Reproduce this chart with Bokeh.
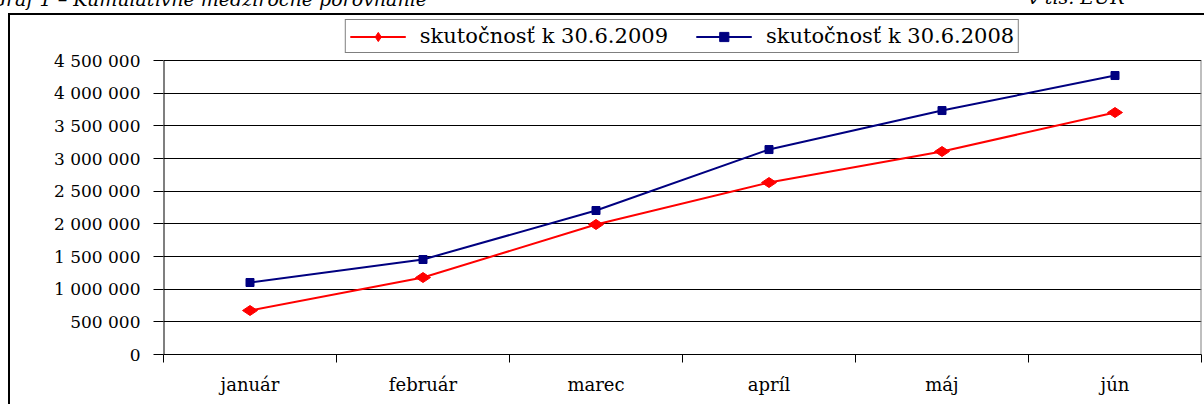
import math
from bokeh.plotting import figure
from bokeh.layouts import column
from bokeh.models import (ColumnDataSource, Range1d, FixedTicker, Legend, LegendItem, Div)
from bokeh.core.properties import value
from bokeh.embed import file_html
from bokeh.resources import INLINE

# ---- data ----
months = ["január", "február", "marec", "apríl", "máj", "jún"]
actual_2009 = [673000, 1178000, 1990000, 2632000, 3107000, 3704000]
actual_2008 = [1102000, 1454000, 2204000, 3137000, 3734000, 4270000]
series_names = ["skutočnosť k 30.6.2009", "skutočnosť k 30.6.2008"]
y_ticks = [0, 500000, 1000000, 1500000, 2000000, 2500000, 3000000, 3500000, 4000000, 4500000]
y_tick_labels = ["0", "500 000", "1 000 000", "1 500 000", "2 000 000", "2 500 000",
                 "3 000 000", "3 500 000", "4 000 000", "4 500 000"]
title_text = "Graf 1 – Kumulatívne medziročné porovnanie"
unit_text = "v tis. EUR"

FONT = "DejaVu Serif"
RED = "#FF0000"
NAVY = "#000080"

x_centers = [i + 0.5 for i in range(len(months))]
x_bounds = list(range(len(months) + 1))

src = ColumnDataSource(dict(x=x_centers, y2009=actual_2009, y2008=actual_2008))

# heading line (cut off at the top of the page, as in the original)
heading = Div(
    text=(f'<div style="position:relative;width:1204px;height:13px;font-family:\'{FONT}\';'
          f'font-style:italic;font-size:19px;line-height:19px;color:#000;white-space:nowrap;">'
          f'<span style="position:absolute;right:777px;top:-10px;">{title_text}</span>'
          f'<span style="position:absolute;left:1028px;top:-12px;">{unit_text}</span></div>'),
    width=1204, height=13, margin=0, styles={"overflow": "visible"})

# plot area: value axis 0 .. 4 500 000 between page rows 354 and 60; the frame is
# extended upwards (to row 16) to hold the legend, as in the original chart area
PX_ZERO, PX_TOP, PX_FRAME_TOP = 354, 60, 16
y_end = y_ticks[-1] * (PX_ZERO - PX_FRAME_TOP) / (PX_ZERO - PX_TOP)

p = figure(width=1204, height=391,
           x_range=Range1d(0, len(months)), y_range=Range1d(y_ticks[0], y_end),
           output_backend="svg", toolbar_location=None,
           min_border_left=163, min_border_right=3, min_border_top=3, min_border_bottom=50,
           background_fill_color="white", border_fill_color=None,
           outline_line_color=None, margin=0)
# outer chart-area box (top and left edges; the rest lies outside the page)
p.styles = {"background": ("linear-gradient(#000,#000) 8px 0px / 100% 2px no-repeat, "
                           "linear-gradient(#000,#000) 8px 0px / 2px 100% no-repeat")}

# y axis
yax = p.yaxis[0]
yax.ticker = FixedTicker(ticks=y_ticks)
yax.major_label_overrides = dict(zip(y_ticks, y_tick_labels))
yax.major_tick_out = 10
yax.major_tick_in = 0
yax.minor_tick_out = 0
yax.minor_tick_in = 0
yax.axis_line_color = None
yax.major_tick_line_color = "black"
yax.major_label_standoff = 13
yax.major_label_text_font = FONT
yax.major_label_text_font_size = "17px"
yax.major_label_text_color = "black"

# x axis: labels at category centres, tick marks at category boundaries
xax = p.xaxis[0]
xax.ticker = FixedTicker(ticks=x_centers, minor_ticks=x_bounds)
xax.major_label_overrides = dict(zip(x_centers, months))
xax.major_tick_out = 0
xax.major_tick_in = 0
xax.minor_tick_out = 8
xax.minor_tick_in = 0
xax.minor_tick_line_color = "black"
xax.axis_line_color = "black"
xax.major_label_standoff = 11
xax.major_label_text_font = FONT
xax.major_label_text_font_size = "18px"
xax.major_label_text_color = "black"

p.xgrid.visible = False
p.ygrid.grid_line_color = "black"
p.ygrid.grid_line_width = 1

# value-axis line and plot-area right border, up to the top value tick only
p.segment(x0=[x_bounds[0]], y0=[y_ticks[0]], x1=[x_bounds[0]], y1=[y_ticks[-1]],
          line_color="black", line_width=2)
p.segment(x0=[x_bounds[-1]], y0=[y_ticks[0]], x1=[x_bounds[-1]], y1=[y_ticks[-1]],
          line_color="#808080", line_width=2)

# series
r1 = p.line("x", "y2009", source=src, line_color=RED, line_width=2)
s1 = p.scatter("x", "y2009", source=src, marker="diamond", angle=math.pi / 2, size=15,
               fill_color=RED, line_color=RED)
r2 = p.line("x", "y2008", source=src, line_color=NAVY, line_width=2)
s2 = p.scatter("x", "y2008", source=src, marker="square", size=8,
               fill_color=NAVY, line_color=NAVY)

legend = Legend(items=[LegendItem(label=value(series_names[0]), renderers=[r1, s1]),
                       LegendItem(label=value(series_names[1]), renderers=[r2, s2])],
                orientation="horizontal", location="top_center", margin=3,
                glyph_width=56, glyph_height=23, label_height=23, label_standoff=14,
                spacing=28, padding=4,
                border_line_color="black", border_line_width=1,
                label_text_font=FONT, label_text_font_size="21px", label_text_color="black",
                background_fill_color="white", background_fill_alpha=1)
p.add_layout(legend, "center")

layout = column(heading, p, spacing=0, margin=0)
open("out.html", "w").write(file_html(layout, INLINE))
